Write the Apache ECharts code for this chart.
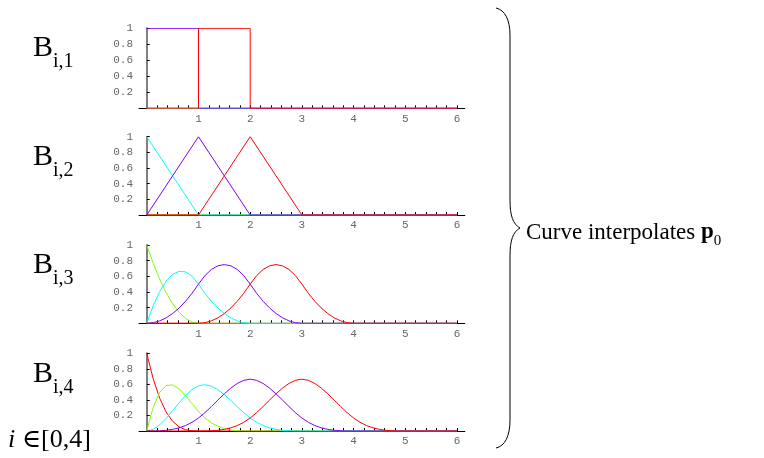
<!DOCTYPE html>
<html>
<head>
<meta charset="utf-8">
<style>
  html, body { margin: 0; padding: 0; background: #ffffff; }
  #chart { width: 764px; height: 458px; }
</style>
<script src="https://cdn.jsdelivr.net/npm/echarts@6/dist/echarts.min.js"></script>
</head>
<body>
<div id="chart"></div>
<script>
// B-spline basis functions B_{i,k}, i = 0..4, k = 1..4, knots 0,0,0,0,1,2,3,4,5,6

// Curve colours by index i (i = 0..4)
const curveColors = ['#ff0000', '#80ff00', '#00ffff', '#8000ff', '#ff0000'];

// Axis tick labels
const xLabelValues = [1, 2, 3, 4, 5, 6];
const yLabelValues = [0.2, 0.4, 0.6, 0.8, 1];

// Panel titles (subscripts)
const panelSubscripts = ['i,1', 'i,2', 'i,3', 'i,4'];

// Order 1 and order 2: piecewise linear, given as [x, y] corner points
const order1 = [
  [[0, 0], [6, 0]],
  [[0, 0], [6, 0]],
  [[0, 0], [6, 0]],
  [[0, 1], [1, 1], [1, 0], [6, 0]],
  [[0, 0], [1, 0], [1, 1], [2, 1], [2, 0], [6, 0]]
];
const order2 = [
  [[0, 0], [6, 0]],
  [[0, 0], [6, 0]],
  [[0, 1], [1, 0], [6, 0]],
  [[0, 0], [1, 1], [2, 0], [6, 0]],
  [[0, 0], [1, 0], [2, 1], [3, 0], [6, 0]]
];

// Order 3 and order 4: values sampled every 0.125 starting at 'from'
const sampleStep = 0.125;
const o3_i1 = [1, 0.766, 0.563, 0.391, 0.25, 0.141, 0.063, 0.016, 0];
const o3_i2 = [0, 0.227, 0.406, 0.539, 0.625, 0.664, 0.656, 0.602, 0.5,
               0.383, 0.281, 0.195, 0.125, 0.070, 0.031, 0.008, 0];
const o3_i3 = [0, 0.008, 0.031, 0.070, 0.125, 0.195, 0.281, 0.383, 0.5,
               0.609, 0.688, 0.734, 0.75, 0.734, 0.688, 0.609, 0.5,
               0.383, 0.281, 0.195, 0.125, 0.070, 0.031, 0.008, 0];
const o3_i4 = [0, 0.008, 0.031, 0.070, 0.125, 0.195, 0.281, 0.383, 0.5,
               0.609, 0.688, 0.734, 0.75, 0.734, 0.688, 0.609, 0.5,
               0.383, 0.281, 0.195, 0.125, 0.070, 0.031, 0.008, 0];

const o4_i0 = [1, 0.670, 0.422, 0.244, 0.125, 0.053, 0.016, 0.002, 0];
const o4_i1 = [0, 0.308, 0.496, 0.585, 0.594, 0.544, 0.457, 0.352, 0.25,
               0.168, 0.105, 0.061, 0.031, 0.013, 0.004, 0.0005, 0];
const o4_i2 = [0, 0.022, 0.079, 0.163, 0.260, 0.362, 0.457, 0.534, 0.583,
               0.596, 0.577, 0.532, 0.469, 0.394, 0.314, 0.236, 0.167,
               0.112, 0.070, 0.041, 0.021, 0.009, 0.003, 0.0003, 0];
const o4_i3 = [0, 0.0003, 0.003, 0.009, 0.021, 0.041, 0.070, 0.112, 0.167,
               0.236, 0.315, 0.398, 0.479, 0.552, 0.612, 0.652, 0.667,
               0.652, 0.612, 0.552, 0.479, 0.398, 0.315, 0.236, 0.167,
               0.112, 0.070, 0.041, 0.021, 0.009, 0.003, 0.0003, 0];
const o4_i4 = [0, 0.0003, 0.003, 0.009, 0.021, 0.041, 0.070, 0.112, 0.167,
               0.236, 0.315, 0.398, 0.479, 0.552, 0.612, 0.652, 0.667,
               0.652, 0.612, 0.552, 0.479, 0.398, 0.315, 0.236, 0.167,
               0.112, 0.070, 0.041, 0.021, 0.009, 0.003, 0.0003, 0];

const order3 = [
  { from: 0, ys: [0] },
  { from: 0, ys: o3_i1 },
  { from: 0, ys: o3_i2 },
  { from: 0, ys: o3_i3 },
  { from: 1, ys: o3_i4 }
];
const order4 = [
  { from: 0, ys: o4_i0 },
  { from: 0, ys: o4_i1 },
  { from: 0, ys: o4_i2 },
  { from: 0, ys: o4_i3 },
  { from: 1, ys: o4_i4 }
];

const X_END = 6;

// Turn a sampled curve into [x, y] points, flat at zero outside its support
function sampledPoints(curve) {
  const pts = [];
  if (curve.from > 0) pts.push([0, 0]);
  curve.ys.forEach((y, k) => pts.push([curve.from + k * sampleStep, y]));
  const lastX = pts[pts.length - 1][0];
  if (lastX < X_END) pts.push([X_END, 0]);
  return pts;
}

const panels = [
  order1,
  order2,
  order3.map(sampledPoints),
  order4.map(sampledPoints)
];

// Layout of the four small plots
const gridTops = [28.3, 136.7, 245, 353.3];
const gridHeights = [80, 78.3, 78.3, 77.7];
const gridLeft = 139;
const gridWidth = 325.8;

// Minor tick marks every 0.2 along the x axis
const minorTicks = [];
for (let k = 1; k <= 30; k++) minorTicks.push(+(k * 0.2).toFixed(1));

const monoFont = '"Liberation Mono", "DejaVu Sans Mono", monospace';
const serifFont = '"Liberation Serif", "DejaVu Serif", serif';

const grid = [], xAxis = [], yAxis = [], series = [];
panels.forEach((curves, g) => {
  grid.push({
    left: gridLeft, top: gridTops[g], width: gridWidth, height: gridHeights[g],
    containLabel: false, outerBoundsMode: 'none'
  });
  xAxis.push({
    type: 'value', gridIndex: g, min: -0.15, max: 6.15,
    splitLine: { show: false },
    axisLine: { show: true, onZero: true, lineStyle: { color: '#000000', width: 1 } },
    axisTick: { show: true, inside: true, length: 3, customValues: minorTicks,
                lineStyle: { color: '#000000', width: 1 } },
    axisLabel: { show: true, customValues: xLabelValues, margin: 5,
                 fontFamily: monoFont, fontSize: 11, color: '#666666' }
  });
  yAxis.push({
    type: 'value', gridIndex: g, min: 0, max: 1,
    splitLine: { show: false },
    axisLine: { show: true, onZero: true, lineStyle: { color: '#808080', width: 2 } },
    axisTick: { show: true, inside: true, length: 3, customValues: yLabelValues,
                lineStyle: { color: '#000000', width: 1 } },
    axisLabel: { show: true, customValues: yLabelValues, margin: 6,
                 fontFamily: monoFont, fontSize: 11, color: '#666666' }
  });
  curves.forEach((pts, i) => {
    series.push({
      type: 'line', xAxisIndex: g, yAxisIndex: g,
      data: pts, showSymbol: false, symbol: 'none', silent: true,
      lineStyle: { color: curveColors[i], width: 1 },
      itemStyle: { color: curveColors[i] },
      z: 3 + i
    });
  });
});

// Text widths for placing subscripts and the bold symbol
const measureCtx = document.createElement('canvas').getContext('2d');
function textWidth(str, font) { measureCtx.font = font; return measureCtx.measureText(str).width; }

const graphic = [];

// Row titles B_{i,k}
const titleBaselines = [63, 172, 280, 389];
const bFont = '30px ' + serifFont;
const bWidth = textWidth('B', bFont);
titleBaselines.forEach((base, g) => {
  graphic.push({
    type: 'text', x: 33, y: base,
    style: { text: 'B', font: bFont, fill: '#000000', verticalAlign: 'bottom', align: 'left' }
  });
  graphic.push({
    type: 'text', x: 33 + bWidth, y: base + 9,
    style: { text: panelSubscripts[g], font: '20px ' + serifFont, fill: '#000000',
             verticalAlign: 'bottom', align: 'left' }
  });
});

// Index range
const iFont = 'italic 26px ' + serifFont;
const rFont = '26px ' + serifFont;
graphic.push({
  type: 'text', x: 8, y: 453,
  style: { text: 'i', font: iFont, fill: '#000000', verticalAlign: 'bottom', align: 'left' }
});
graphic.push({
  type: 'text', x: 8 + textWidth('i ', iFont), y: 453,
  style: { text: '\u2208[0,4]', font: rFont, fill: '#000000', verticalAlign: 'bottom', align: 'left' }
});

// Right brace spanning all four plots, built from curve and line pieces
const braceStyle = { fill: 'none', stroke: '#000000', lineWidth: 1 };
const braceCurves = [
  { x1: 496, y1: 8,   cpx1: 505, cpy1: 10,  cpx2: 510, cpy2: 20,  x2: 510, y2: 35 },
  { x1: 510, y1: 200, cpx1: 510, cpy1: 216, cpx2: 513, cpy2: 224, x2: 520, y2: 228 },
  { x1: 520, y1: 228, cpx1: 513, cpy1: 232, cpx2: 510, cpy2: 240, x2: 510, y2: 256 },
  { x1: 510, y1: 420, cpx1: 510, cpy1: 436, cpx2: 505, cpy2: 446, x2: 496, y2: 448 }
];
braceCurves.forEach(shape => graphic.push({ type: 'bezierCurve', shape, style: braceStyle }));
graphic.push({ type: 'line', shape: { x1: 510, y1: 35, x2: 510, y2: 200 }, style: braceStyle });
graphic.push({ type: 'line', shape: { x1: 510, y1: 256, x2: 510, y2: 420 }, style: braceStyle });

// Caption next to the brace
const capFont = '23px ' + serifFont;
const capBold = 'bold 23px ' + serifFont;
const capText = 'Curve interpolates ';
const capX = 526, capBase = 244;
graphic.push({
  type: 'text', x: capX, y: capBase,
  style: { text: capText, font: capFont, fill: '#000000', verticalAlign: 'bottom', align: 'left' }
});
const pX = capX + textWidth(capText, capFont);
graphic.push({
  type: 'text', x: pX, y: capBase,
  style: { text: 'p', font: capBold, fill: '#000000', verticalAlign: 'bottom', align: 'left' }
});
graphic.push({
  type: 'text', x: pX + textWidth('p', capBold), y: capBase + 5,
  style: { text: '0', font: '15px ' + serifFont, fill: '#000000', verticalAlign: 'bottom', align: 'left' }
});

const chart = echarts.init(document.getElementById('chart'), null, { renderer: 'canvas' });
chart.setOption({
  animation: false,
  backgroundColor: '#ffffff',
  grid, xAxis, yAxis, series, graphic
});
</script>
</body>
</html>
